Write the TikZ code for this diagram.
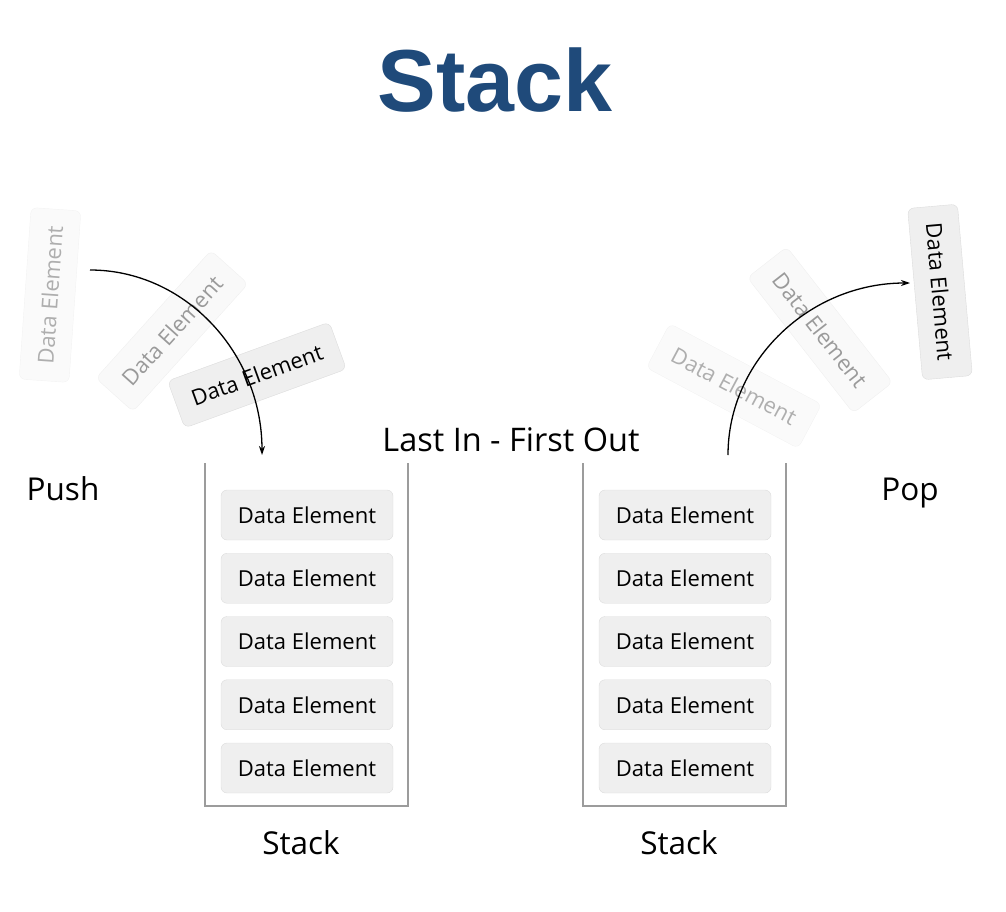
\documentclass[tikz,border=0pt]{standalone}
\usepackage{fontspec}
\setmainfont{Open Sans}
\newfontfamily\titlefont{Liberation Sans}
\usetikzlibrary{arrows.meta}

\definecolor{titleblue}{HTML}{1F4A7A}
\definecolor{elfill}{HTML}{EFEFEF}
\definecolor{eldraw}{HTML}{DCDCDC}
\definecolor{wallgray}{HTML}{9C9C9C}

\tikzset{
  elem/.style={draw=eldraw, fill=elfill, rounded corners=6pt,
    minimum width=172pt, minimum height=50pt, inner sep=0pt,
    font=\fontsize{22}{25}\selectfont},
  ghost/.style={elem, opacity=#1},
  bigtext/.style={font=\fontsize{31.5}{36}\selectfont},
  wall/.style={draw=wallgray, line width=1.2pt},
}

\begin{document}
\begin{tikzpicture}[x=1pt, y=-1pt, >={Stealth[length=9pt,width=6pt]}]

  \useasboundingbox (0,0) rectangle (1006,912);

  % Titulo
  \node[font=\titlefont\fontsize{88}{96}\selectfont\bfseries, text=titleblue]
    (title) at (495,80) {Stack};

  % Pilas
  \draw[wall] (205,463) -- (205,806) -- (408,806) -- (408,463);
  \draw[wall] (583,463) -- (583,806) -- (786,806) -- (786,463);

  \foreach \i in {1,...,5} {
    \pgfmathsetmacro{\yy}{515 + (\i-1)*63.25}
    \node[elem] (l\i) at (307,\yy) {Data Element};
    \node[elem] (r\i) at (685,\yy) {Data Element};
  }

  \node[bigtext] (lstack) at (301,843) {Stack};
  \node[bigtext] (rstack) at (679,843) {Stack};
  \node[bigtext, anchor=base] (push) at (63,500) {Push};
  \node[bigtext, anchor=base] (pop) at (910,500) {Pop};
  \node[bigtext, font=\fontsize{32.5}{36}\selectfont] (lifo) at (511,440)
    {Last In - First Out};

  % Elementos que entran (push)
  \node[ghost=0.3, rotate=86] (in1) at (50,295) {Data Element};
  \node[ghost=0.38, rotate=48] (in2) at (172,331) {Data Element};
  \node[elem, rotate=20] (in3) at (257,375) {Data Element};

  % Elementos que salen (pop)
  \node[ghost=0.3, rotate=-28] (out1) at (734,386) {Data Element};
  \node[ghost=0.38, rotate=-52] (out2) at (820,330) {Data Element};
  \node[elem, rotate=-85] (out3) at (940,292) {Data Element};

  % Flechas
  \coordinate (pushstart) at (90,270);
  \coordinate (pushend) at (262,455);
  \draw[->, line width=1.3pt] (pushstart)
    .. controls +(95,0) and +(0,-102) .. (pushend);

  \coordinate (popstart) at (728,455);
  \coordinate (popend) at (910,283);
  \draw[->, line width=1.3pt] (popstart)
    .. controls +(0,-95) and +(-100,0) .. (popend);

\end{tikzpicture}
\end{document}
